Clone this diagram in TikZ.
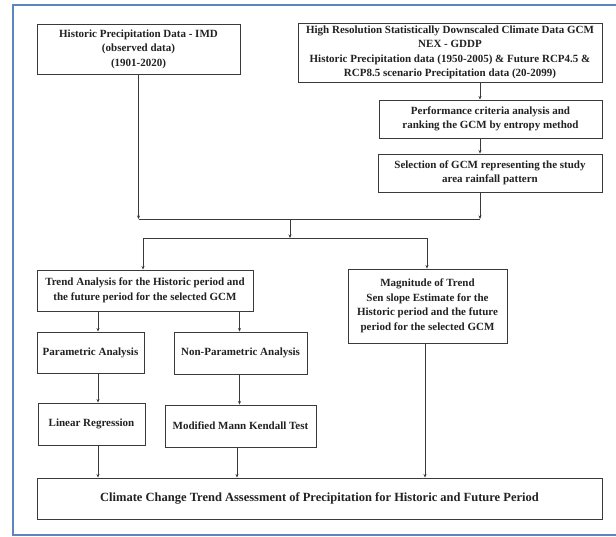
\documentclass[tikz,border=0pt]{standalone}
\usepackage{fontspec}
\setmainfont{Liberation Serif}
\usetikzlibrary{arrows.meta,calc,positioning,shadows}
\definecolor{FlowInk}{HTML}{222222}
\definecolor{FlowLine}{HTML}{3A3A3A}
\definecolor{FlowFrame}{HTML}{5B86C2}
\tikzset{
  every node/.style={font=\bfseries\fontsize{11}{14.5}\selectfont, text=FlowInk},
  stepbox/.style={draw=FlowLine, line width=0.9pt, fill=white, align=center, inner sep=0pt,
    drop shadow={shadow xshift=1pt, shadow yshift=-1pt, fill=black!22}},
  link/.style={draw=FlowLine, line width=0.8pt},
  feed/.style={-{Stealth[length=3.5pt,width=3pt]}, draw=FlowLine, line width=0.8pt},
}
\begin{document}
\begin{tikzpicture}[x=1pt,y=-1pt]
  % Page and frame
  \fill[white] (0,0) rectangle (616,537);
  \useasboundingbox (0,0) rectangle (616,537);
  \draw[FlowFrame, line width=2pt] (616,5) -- (13,5) -- (13,535) -- (616,535);
  % Data sources
  \node[stepbox, minimum width=203pt, minimum height=50pt] (imd) at (138.5,49)
    {Historic Precipitation Data - IMD\\(observed data)\\(1901-2020)};
  \node[stepbox, minimum width=304pt, minimum height=59pt] (nex) at (450,52.5)
    {High Resolution Statistically Downscaled Climate Data GCM\\NEX - GDDP\\
     Historic Precipitation data (1950-2005) \& Future RCP4.5 \&\\
     RCP8.5 scenario Precipitation data (20-2099)};
  \node[stepbox, minimum width=223pt, minimum height=38pt] (perf) at (490.5,119)
    {Performance criteria analysis and\\ranking the GCM by entropy method};
  \node[stepbox, minimum width=224pt, minimum height=38pt] (sel) at (490,173)
    {Selection of GCM representing the study\\area rainfall pattern};
  % Analysis
  \node[stepbox, minimum width=216pt, minimum height=41pt] (trend) at (145,290.5)
    {Trend Analysis for the Historic period and\\the future period for the selected GCM};
  \node[stepbox, minimum width=159pt, minimum height=74pt] (mag) at (427.5,306)
    {Magnitude of Trend\\Sen slope Estimate for the\\Historic period and the future\\period for the selected GCM};
  \node[stepbox, minimum width=107pt, minimum height=41pt] (para) at (90.5,352.5)
    {Parametric Analysis};
  \node[stepbox, minimum width=133pt, minimum height=42pt] (nonpara) at (240.5,353)
    {Non-Parametric Analysis};
  \node[stepbox, minimum width=107pt, minimum height=42pt] (linreg) at (91.5,424)
    {Linear Regression};
  \node[stepbox, minimum width=151pt, minimum height=42pt] (mmk) at (240.5,426)
    {Modified Mann Kendall Test};
  % Outcome
  \node[stepbox, minimum width=565pt, minimum height=41pt,
    font=\bfseries\fontsize{12.5}{15}\selectfont] (final) at (319.5,498.5)
    {Climate Change Trend Assessment of Precipitation for Historic and Future Period};
  % Junctions
  \coordinate (jL) at (138.5,219);
  \coordinate (jR) at (480,219);
  \coordinate (jM) at (290,219);
  \coordinate (sM) at (290,238);
  \coordinate (sL) at (143,238);
  \coordinate (sR) at (427,238);
  % Columns of the lower arrows
  \coordinate (cA) at (98,0);
  \coordinate (cB) at (239.5,0);
  \coordinate (cC) at (237,0);
  \coordinate (cD) at (425,0);
  % Connectors
  \draw[feed] (nex.south -| jR) -- (perf.north -| jR);
  \draw[feed] (perf.south -| jR) -- (sel.north -| jR);
  \draw[feed] (sel.south -| jR) -- (jR);
  \draw[feed] (imd.south) -- (jL);
  \draw[link] (jL) -- (jR);
  \draw[feed] (jM) -- (sM);
  \draw[link] (sL) -- (sR);
  \draw[feed] (sL) -- (trend.north -| sL);
  \draw[feed] (sR) -- (mag.north -| sR);
  \draw[feed] (trend.south -| cA) -- (para.north -| cA);
  \draw[feed] (trend.south -| cB) -- (nonpara.north -| cB);
  \draw[feed] (para.south -| cA) -- (linreg.north -| cA);
  \draw[feed] (nonpara.south -| cB) -- (mmk.north -| cB);
  \draw[feed] (linreg.south -| cA) -- (final.north -| cA);
  \draw[feed] (mmk.south -| cC) -- (final.north -| cC);
  \draw[feed] (mag.south -| cD) -- (final.north -| cD);
\end{tikzpicture}
\end{document}
